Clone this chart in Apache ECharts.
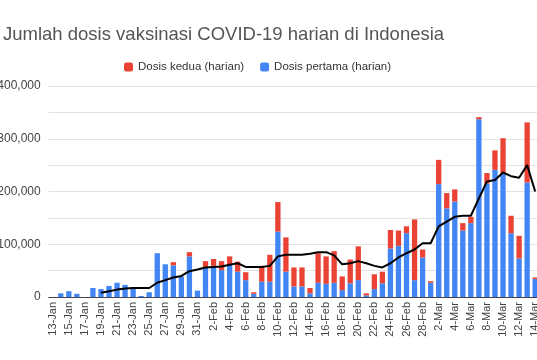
<!DOCTYPE html>
<html>
<head>
<meta charset="utf-8">
<script src="https://cdn.jsdelivr.net/npm/echarts@6/dist/echarts.min.js"></script>
<style>
html,body{margin:0;padding:0;background:#fff;}
#chart{width:537px;height:360px;}
</style>
</head>
<body>
<div id="chart"></div>
<script>
var categories = ["13-Jan","14-Jan","15-Jan","16-Jan","17-Jan","18-Jan","19-Jan","20-Jan","21-Jan","22-Jan","23-Jan","24-Jan","25-Jan","26-Jan","27-Jan","28-Jan","29-Jan","30-Jan","31-Jan",
"1-Feb","2-Feb","3-Feb","4-Feb","5-Feb","6-Feb","7-Feb","8-Feb","9-Feb","10-Feb","11-Feb","12-Feb","13-Feb","14-Feb","15-Feb","16-Feb","17-Feb","18-Feb","19-Feb","20-Feb","21-Feb","22-Feb","23-Feb","24-Feb","25-Feb","26-Feb","27-Feb","28-Feb",
"1-Mar","2-Mar","3-Mar","4-Mar","5-Mar","6-Mar","7-Mar","8-Mar","9-Mar","10-Mar","11-Mar","12-Mar","13-Mar","14-Mar"];

// Dosis pertama (harian) - blue, bottom of stack
var dosisPertama = [0,7000,11000,6000,0,17000,15000,21000,27000,23000,18000,2000,9000,83000,62000,60000,39000,77000,12000,
55000,59000,51000,61000,48000,32000,6000,29000,29000,124000,48000,20000,20000,7000,27000,25000,27000,13000,26000,32000,3000,15000,26000,92000,97000,121000,32000,75000,
27000,214000,168000,181000,126000,140000,337000,215000,241000,234000,121000,73000,217000,34000];

// Dosis kedua (harian) - red, top of stack
var dosisKedua = [0,0,0,0,0,0,0,0,0,0,0,0,0,0,0,6000,0,8000,0,
13000,13000,17000,16000,19000,15000,3000,30000,51000,56000,65000,36000,36000,10000,56000,52000,60000,26000,45000,64000,4000,28000,22000,35000,29000,13000,115000,15000,
3000,46000,29000,23000,14000,12000,4000,20000,37000,67000,33000,43000,114000,3000];

// Trend line (moving average)
var rataRata = [null,null,null,null,null,null,8000,11000,14000,16000,17000,17000,17000,27000,32000,37000,40000,49000,52000,
56000,57000,58000,61000,64000,57000,57000,57000,59000,77000,80000,80000,80000,82000,85000,85000,79000,62000,64000,68000,64000,59000,56000,64000,75000,83000,90000,102000,
102000,134000,143000,152000,154000,154000,187000,219000,222000,236000,229000,226000,250000,200000];

var yTicks = [0,100000,200000,300000,400000];

var chart = echarts.init(document.getElementById('chart'), null, {renderer:'canvas'});
var font = "'Liberation Sans', Arial, sans-serif";
chart.setOption({
  animation: false,
  backgroundColor: '#ffffff',
  title: {
    text: 'Jumlah dosis vaksinasi COVID-19 harian di Indonesia',
    left: -2, top: 20,
    textStyle: {fontFamily: font, fontSize: 18.5, fontWeight: 'normal', color: '#555555'}
  },
  legend: {
    data: ['Dosis kedua (harian)', 'Dosis pertama (harian)'],
    left: 119, top: 56,
    itemWidth: 9, itemHeight: 9, itemGap: 16,
    icon: 'roundRect',
    textStyle: {fontFamily: font, fontSize: 11.5, color: '#333'}
  },
  grid: {left: 48.7, top: 86, width: 490.5, bottom: 63, containLabel: false, outerBoundsMode: 'none'},
  xAxis: {
    type: 'category',
    data: categories,
    boundaryGap: true,
    axisLine: {lineStyle: {color: '#444', width: 1}},
    axisTick: {show: false},
    axisLabel: {interval: 1, rotate: 90, margin: 5, fontFamily: font, fontSize: 11, color: '#444'}
  },
  yAxis: {
    type: 'value',
    min: 0, max: 400000, interval: 50000,
    axisLine: {show: false},
    axisTick: {show: false},
    splitLine: {lineStyle: {color: '#e3e3e3', width: 1}},
    axisLabel: {
      margin: 8, fontFamily: font, fontSize: 12, color: '#444',
      formatter: function (v) { return yTicks.indexOf(v) >= 0 ? v.toLocaleString('en-US') : ''; }
    }
  },
  series: [
    {
      name: 'Dosis pertama (harian)', type: 'bar', stack: 'dosis',
      data: dosisPertama, barWidth: '66%',
      itemStyle: {color: '#4285F4'}
    },
    {
      name: 'Dosis kedua (harian)', type: 'bar', stack: 'dosis',
      data: dosisKedua, barWidth: '66%',
      itemStyle: {color: '#EA4335'}
    },
    {
      name: 'Rata-rata', type: 'line', data: rataRata,
      symbol: 'none', smooth: false, connectNulls: false,
      lineStyle: {color: '#000', width: 2},
      z: 5
    }
  ]
});
</script>
</body>
</html>
